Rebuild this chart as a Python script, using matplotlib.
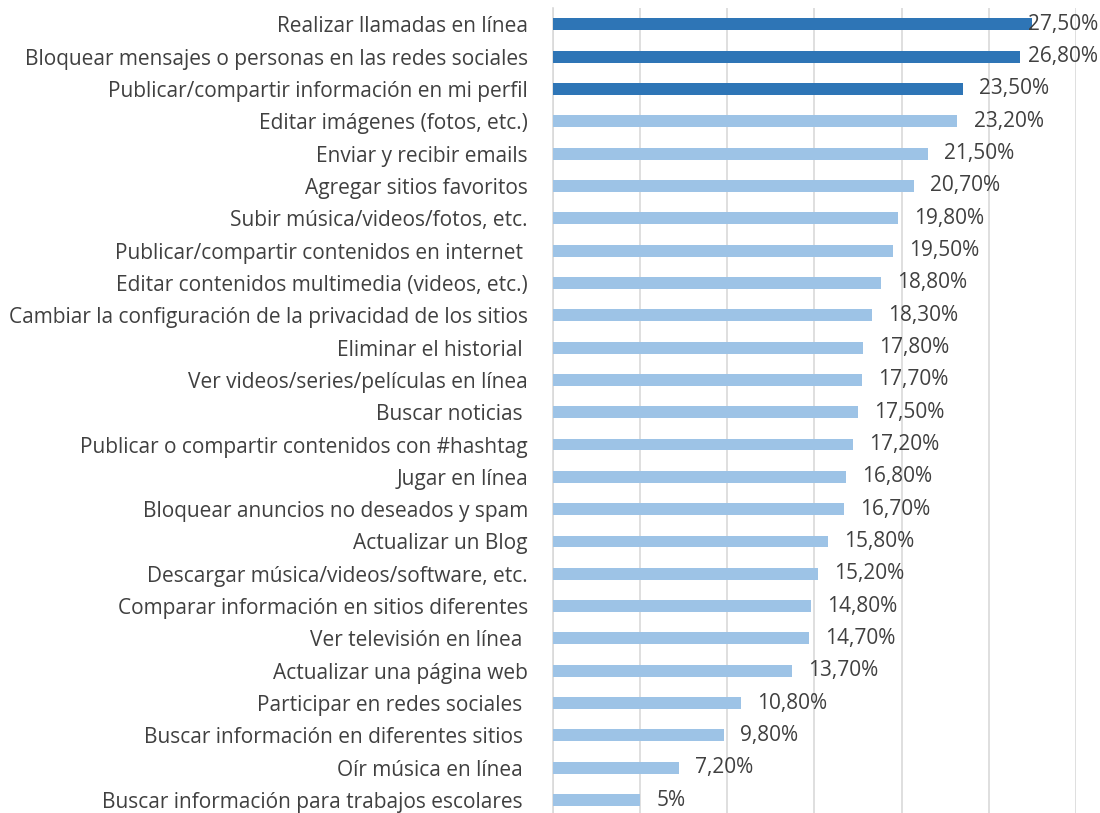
import matplotlib.pyplot as plt

plt.rcParams['font.family'] = ['Open Sans', 'DejaVu Sans']

# categories from top to bottom
categories = [
    'Realizar llamadas en línea',
    'Bloquear mensajes o personas en las redes sociales',
    'Publicar/compartir información en mi perfil',
    'Editar imágenes (fotos, etc.)',
    'Enviar y recibir emails',
    'Agregar sitios favoritos',
    'Subir música/videos/fotos, etc.',
    'Publicar/compartir contenidos en internet ',
    'Editar contenidos multimedia (videos, etc.)',
    'Cambiar la configuración de la privacidad de los sitios',
    'Eliminar el historial ',
    'Ver videos/series/películas en línea',
    'Buscar noticias ',
    'Publicar o compartir contenidos con #hashtag',
    'Jugar en línea',
    'Bloquear anuncios no deseados y spam',
    'Actualizar un Blog',
    'Descargar música/videos/software, etc.',
    'Comparar información en sitios diferentes',
    'Ver televisión en línea ',
    'Actualizar una página web',
    'Participar en redes sociales ',
    'Buscar información en diferentes sitios ',
    'Oír música en línea ',
    'Buscar información para trabajos escolares ',
]
values = [27.5, 26.8, 23.5, 23.2, 21.5, 20.7, 19.8, 19.5, 18.8, 18.3, 17.8, 17.7,
          17.5, 17.2, 16.8, 16.7, 15.8, 15.2, 14.8, 14.7, 13.7, 10.8, 9.8, 7.2, 5.0]
value_labels = ['27,50%', '26,80%', '23,50%', '23,20%', '21,50%', '20,70%', '19,80%',
                '19,50%', '18,80%', '18,30%', '17,80%', '17,70%', '17,50%', '17,20%',
                '16,80%', '16,70%', '15,80%', '15,20%', '14,80%', '14,70%', '13,70%',
                '10,80%', '9,80%', '7,20%', '5%']
highlight = 3  # first three bars are dark

dark = '#2E75B6'
light = '#9DC3E6'
text_col = '#404040'

fig = plt.figure(figsize=(11, 8.13), dpi=100)
ax = fig.add_axes([0.5027, -0.004, 0.4755, 0.994])

ypos = list(range(len(categories)))
colors = [dark if i < highlight else light for i in ypos]
ax.barh(ypos, values, height=0.37, color=colors, zorder=3)

for y, v, lab in zip(ypos, values, value_labels):
    ax.text(min(v + 0.92, 27.25), y, lab, ha='left', va='center',
            fontsize=15, color=text_col, zorder=4)

ax.set_xlim(0, 30)
ax.set_ylim(len(categories) - 0.5, -0.5)
ax.set_xticks(range(0, 31, 5))
ax.set_xticklabels([])
ax.grid(axis='x', color='#D9D9D9', linewidth=1.2, zorder=0)
ax.set_yticks(ypos)
ax.set_yticklabels(categories, fontsize=15, color=text_col)
ax.tick_params(axis='both', length=0, pad=18)
for side in ['top', 'right', 'bottom']:
    ax.spines[side].set_visible(False)
ax.spines['left'].set_color('#D9D9D9')
ax.spines['left'].set_linewidth(1.2)

fig.savefig('out.png', dpi=100)
